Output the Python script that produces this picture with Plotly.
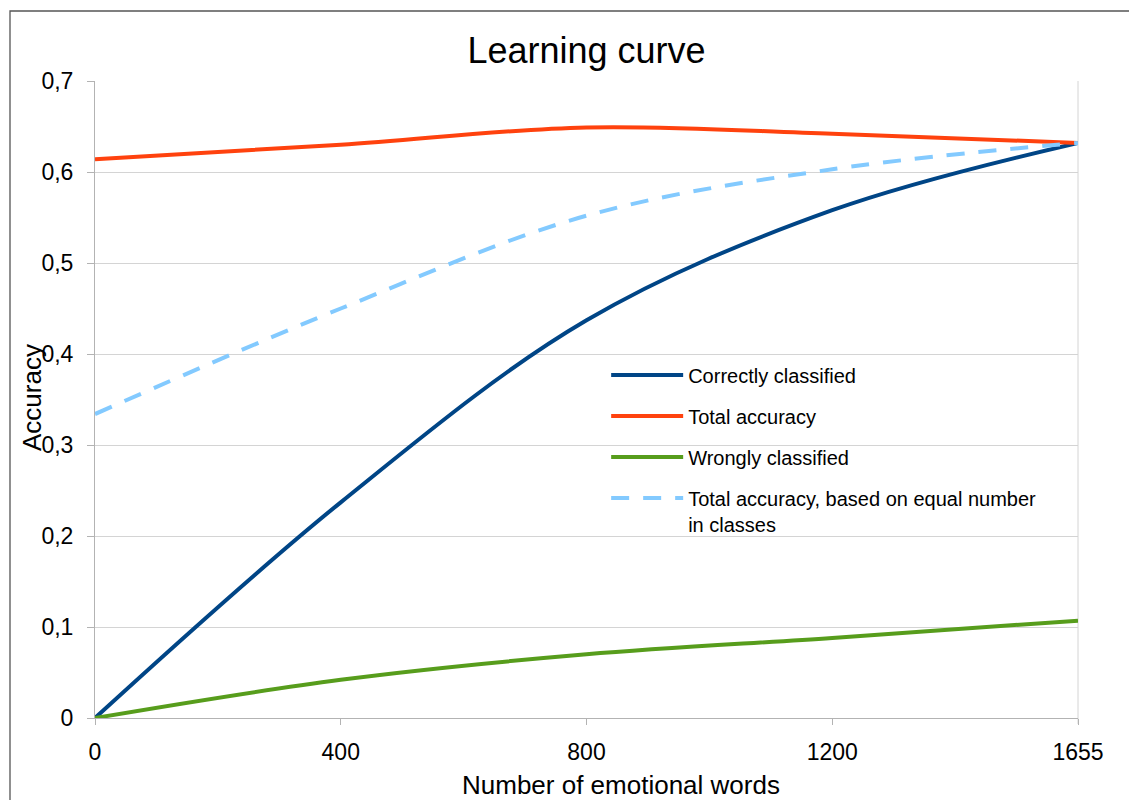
import plotly.graph_objects as go

categories = ["0", "400", "800", "1200", "1655"]
correctly = [0.0, 0.237, 0.437, 0.558, 0.632]
total = [0.614, 0.630, 0.649, 0.642, 0.632]
wrongly = [0.0, 0.042, 0.070, 0.088, 0.107]
total_equal = [0.334, 0.450, 0.552, 0.603, 0.632]

series = [
    ("Correctly classified", correctly, "#004586", "solid"),
    ("Total accuracy", total, "#ff420e", "solid"),
    ("Wrongly classified", wrongly, "#579d1c", "solid"),
    ("Total accuracy, based on equal number<br>in classes", total_equal, "#83caff", "18px,14px"),
]

fig = go.Figure()
for i, (name, vals, color, dash) in enumerate(series):
    fig.add_trace(go.Scatter(
        x=categories, y=vals, name=name, mode="lines",
        line=dict(color=color, width=4, dash=dash, shape="spline", smoothing=1),
        legendgroup=f"g{i}", cliponaxis=False,
    ))

font = "Liberation Sans, Arial, sans-serif"
fig.update_layout(
    width=1129, height=800,
    margin=dict(l=95, r=51, t=81, b=82),
    paper_bgcolor="white", plot_bgcolor="white",
    separators=",.",
    font=dict(family=font, color="black"),
    title=dict(text="Learning curve", x=0.5, xref="paper", xanchor="center",
               y=1 - 50 / 800, yanchor="middle", font=dict(size=36, family=font)),
    showlegend=True,
    legend=dict(x=0.52, y=0.569, xanchor="left", yanchor="top",
                font=dict(size=20, family=font), itemwidth=72, valign="top",
                tracegroupgap=12, bgcolor="rgba(0,0,0,0)"),
    xaxis=dict(type="category", range=[0, 4], showgrid=False,
               showline=True, linecolor="#b3b3b3", linewidth=1,
               ticks="outside", ticklen=6, tickcolor="#b3b3b3",
               tickfont=dict(size=23), ticklabelstandoff=7, zeroline=False),
    yaxis=dict(range=[0, 0.7], dtick=0.1, tick0=0, showgrid=True,
               gridcolor="#d4d4d4", gridwidth=1,
               showline=True, linecolor="#b3b3b3", linewidth=1,
               ticks="outside", ticklen=7, tickcolor="#b3b3b3",
               tickfont=dict(size=23), ticklabelstandoff=9, zeroline=False),
    annotations=[
        dict(text="Number of emotional words", xref="paper", yref="paper",
             x=(621 - 95) / 983, y=-(785 - 718) / 637, xanchor="center", yanchor="middle",
             showarrow=False, font=dict(size=26, family=font)),
        dict(text="Accuracy", xref="paper", yref="paper",
             x=(32 - 95) / 983, y=(718 - 398) / 637, xanchor="center", yanchor="middle",
             textangle=-90, showarrow=False, font=dict(size=26, family=font)),
    ],
    shapes=[
        dict(type="line", xref="paper", yref="paper", x0=1, x1=1, y0=-6 / 637, y1=1,
             line=dict(color="#d4d4d4", width=1), layer="below"),
        dict(type="rect", xref="paper", yref="paper",
             x0=(10 - 95) / 983, x1=1.2, y0=-0.3, y1=(718 - 11) / 637,
             line=dict(color="#555555", width=1.3), fillcolor="rgba(0,0,0,0)", layer="above"),
    ],
)

fig.write_html("out.html", config={"displayModeBar": False},
               post_script="document.body.style.margin='0px';")
